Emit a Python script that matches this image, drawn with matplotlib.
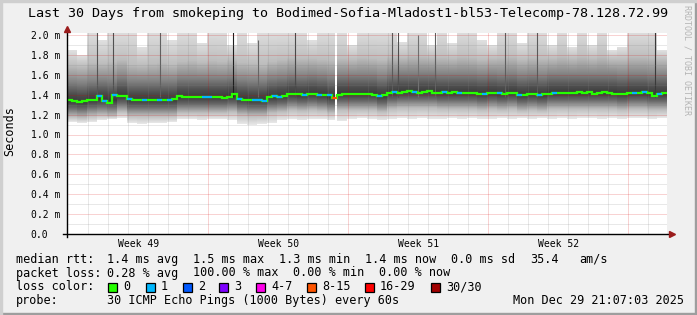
import matplotlib
matplotlib.use("Agg")
import matplotlib.pyplot as plt
import numpy as np
from matplotlib.patches import Rectangle

W, H = 697, 315
MONO = "DejaVu Sans Mono"

TITLE = "Last 30 Days from smokeping to Bodimed-Sofia-Mladost1-bl53-Telecomp-78.128.72.99"

# median rtt in ms, one value per 6 hours over the 30 days
median_rtt = [
    1.345, 1.34, 1.33, 1.335, 1.345, 1.35, 1.39, 1.335, 1.315, 1.40,
    1.385, 1.39, 1.355, 1.35, 1.35, 1.345, 1.345, 1.35, 1.345, 1.35,
    1.345, 1.36, 1.385, 1.38, 1.38, 1.375, 1.38, 1.375, 1.38, 1.375,
    1.38, 1.37, 1.375, 1.41, 1.36, 1.35, 1.35, 1.345, 1.35, 1.34,
    1.375, 1.385, 1.38, 1.39, 1.405, 1.41, 1.405, 1.40, 1.405, 1.41,
    1.395, 1.40, 1.395, 1.37, 1.40, 1.41, 1.405, 1.41, 1.405, 1.41,
    1.41, 1.40, 1.385, 1.395, 1.42, 1.425, 1.42, 1.43, 1.435, 1.425,
    1.42, 1.43, 1.44, 1.42, 1.415, 1.425, 1.42, 1.425, 1.415, 1.42,
    1.415, 1.42, 1.41, 1.405, 1.415, 1.42, 1.415, 1.41, 1.415, 1.42,
    1.40, 1.395, 1.405, 1.41, 1.40, 1.405, 1.41, 1.42, 1.415, 1.42,
    1.415, 1.42, 1.425, 1.42, 1.425, 1.41, 1.42, 1.425, 1.42, 1.41,
    1.405, 1.41, 1.415, 1.42, 1.415, 1.425, 1.42, 1.39, 1.41, 1.415,
]
# loss class of each median value (index into loss_colors)
median_loss = [
    0, 0, 0, 0, 0, 0, 1, 1, 0, 1,
    0, 0, 1, 0, 0, 1, 0, 0, 1, 0,
    1, 0, 0, 0, 0, 0, 0, 1, 1, 0,
    0, 0, 0, 0, 1, 0, 0, 1, 1, 1,
    0, 1, 1, 0, 0, 0, 0, 1, 0, 0,
    1, 0, 1, 5, 0, 0, 0, 0, 0, 0,
    0, 0, 1, 0, 0, 1, 0, 0, 0, 1,
    0, 0, 0, 0, 0, 1, 0, 0, 1, 0,
    0, 0, 0, 1, 0, 0, 1, 0, 0, 0,
    1, 0, 0, 0, 1, 0, 0, 1, 0, 0,
    0, 0, 0, 0, 0, 0, 0, 0, 0, 0,
    0, 0, 0, 1, 0, 1, 0, 0, 1, 0,
]

# smoke (spread of the 30 pings), one column per 12 hours, ms
smoke_lo = [
    1.13, 1.12, 1.13, 1.15, 1.16, 1.17, 1.12, 1.11, 1.12, 1.12,
    1.13, 1.16, 1.16, 1.15, 1.16, 1.16, 1.15, 1.11, 1.10, 1.11,
    1.12, 1.15, 1.16, 1.15, 1.16, 1.16, 1.15, 1.14, 1.16, 1.17,
    1.16, 1.15, 1.16, 1.17, 1.16, 1.17, 1.16, 1.16, 1.17, 1.16,
    1.17, 1.16, 1.16, 1.17, 1.16, 1.17, 1.16, 1.17, 1.16, 1.17,
    1.16, 1.17, 1.17, 1.16, 1.17, 1.16, 1.17, 1.17, 1.16, 1.17,
]
smoke_b1 = [
    1.18, 1.17, 1.19, 1.20, 1.19, 1.23, 1.19, 1.19, 1.19, 1.19,
    1.19, 1.22, 1.22, 1.22, 1.22, 1.22, 1.23, 1.20, 1.19, 1.19,
    1.22, 1.23, 1.25, 1.24, 1.25, 1.24, 1.22, 1.25, 1.25, 1.25,
    1.25, 1.23, 1.26, 1.27, 1.27, 1.27, 1.27, 1.26, 1.26, 1.26,
    1.26, 1.25, 1.26, 1.25, 1.26, 1.24, 1.25, 1.24, 1.26, 1.26,
    1.26, 1.26, 1.26, 1.26, 1.26, 1.25, 1.26, 1.26, 1.25, 1.25,
]
smoke_b2 = [
    1.27, 1.26, 1.28, 1.29, 1.28, 1.32, 1.28, 1.28, 1.28, 1.28,
    1.28, 1.31, 1.31, 1.31, 1.31, 1.31, 1.32, 1.29, 1.28, 1.28,
    1.31, 1.32, 1.34, 1.33, 1.34, 1.33, 1.31, 1.34, 1.34, 1.34,
    1.34, 1.32, 1.35, 1.36, 1.36, 1.36, 1.36, 1.35, 1.35, 1.35,
    1.35, 1.34, 1.35, 1.34, 1.35, 1.33, 1.34, 1.33, 1.35, 1.35,
    1.35, 1.35, 1.35, 1.35, 1.35, 1.34, 1.35, 1.35, 1.34, 1.34,
]
smoke_a1 = [
    1.41, 1.40, 1.42, 1.43, 1.42, 1.46, 1.42, 1.42, 1.42, 1.42,
    1.42, 1.45, 1.45, 1.45, 1.45, 1.45, 1.46, 1.43, 1.42, 1.42,
    1.45, 1.46, 1.48, 1.47, 1.48, 1.47, 1.45, 1.48, 1.48, 1.48,
    1.48, 1.46, 1.49, 1.50, 1.50, 1.50, 1.50, 1.49, 1.49, 1.49,
    1.49, 1.48, 1.49, 1.48, 1.49, 1.47, 1.48, 1.47, 1.49, 1.49,
    1.49, 1.49, 1.49, 1.49, 1.49, 1.48, 1.49, 1.49, 1.48, 1.48,
]
smoke_a2 = [
    1.53, 1.52, 1.54, 1.55, 1.54, 1.58, 1.54, 1.54, 1.54, 1.54,
    1.54, 1.57, 1.57, 1.57, 1.57, 1.57, 1.58, 1.55, 1.54, 1.54,
    1.57, 1.58, 1.60, 1.59, 1.60, 1.59, 1.57, 1.60, 1.60, 1.60,
    1.60, 1.58, 1.61, 1.62, 1.62, 1.62, 1.62, 1.61, 1.61, 1.61,
    1.61, 1.60, 1.61, 1.60, 1.61, 1.59, 1.60, 1.59, 1.61, 1.61,
    1.61, 1.61, 1.61, 1.61, 1.61, 1.60, 1.61, 1.61, 1.60, 1.60,
]
smoke_a3 = [
    1.70, 1.69, 1.73, 1.72, 1.74, 1.76, 1.71, 1.70, 1.72, 1.73,
    1.71, 1.74, 1.75, 1.73, 1.75, 1.74, 1.76, 1.73, 1.72, 1.71,
    1.74, 1.76, 1.78, 1.77, 1.77, 1.76, 1.75, 1.77, 1.76, 1.78,
    1.77, 1.76, 1.79, 1.78, 1.80, 1.79, 1.78, 1.78, 1.77, 1.79,
    1.78, 1.76, 1.77, 1.78, 1.79, 1.76, 1.78, 1.77, 1.77, 1.79,
    1.77, 1.79, 1.77, 1.79, 1.76, 1.76, 1.79, 1.79, 1.78, 1.76,
]
smoke_hi = [
    1.85, 1.80, 2.05, 1.95, 2.05, 2.05, 2.05, 1.88, 2.05, 2.05,
    1.95, 2.05, 2.05, 1.92, 2.05, 2.05, 1.90, 2.05, 1.92, 2.05,
    2.05, 2.05, 2.05, 2.05, 1.95, 2.05, 2.05, 2.05, 1.90, 2.05,
    2.05, 2.05, 2.05, 1.93, 2.05, 2.05, 1.90, 2.05, 1.92, 2.05,
    2.05, 1.95, 1.90, 2.05, 2.05, 1.92, 2.05, 2.05, 1.90, 2.05,
    1.88, 2.05, 1.90, 2.05, 1.85, 1.88, 2.05, 2.05, 2.05, 1.85,
]
# grey level (0-255) of the smoke at lo, b1, b2, core, a1, a2, a3, hi
smoke_levels = [232, 190, 105, 58, 78, 130, 190, 224]

# single samples with a wide spread (dark streaks), day offset and top in ms
spike_days = [1.5, 2.3, 4.65, 8.3, 9.55, 11.4, 16.25, 16.55, 17.55, 18.4, 21.9, 23.5, 29.4]
spike_tops = [2.05, 2.05, 2.05, 2.05, 1.95, 2.05, 2.05, 2.05, 2.0, 2.05, 2.05, 2.05, 2.05]
spike_grays = ["#555555", "#505050", "#606060", "#1e1e1e", "#666666", "#4a4a4a",
               "#5a5a5a", "#4e4e4e", "#707070", "#606060", "#5e5e5e", "#5a5a5a", "#3a3a3a"]
outage_days = [13.45]

week_labels = ["Week 49", "Week 50", "Week 51", "Week 52"]
week_centers = [3.59, 10.59, 17.59, 24.59]
week_bounds = [7.05, 14.05, 21.05, 28.05]
day_lines = [1.05 + d for d in range(29)]

y_ticks = [0.0, 0.2, 0.4, 0.6, 0.8, 1.0, 1.2, 1.4, 1.6, 1.8, 2.0]
y_labels = ["0.0", "0.2 m", "0.4 m", "0.6 m", "0.8 m", "1.0 m", "1.2 m",
            "1.4 m", "1.6 m", "1.8 m", "2.0 m"]
y_minor = [0.1, 0.3, 0.5, 0.7, 0.9, 1.1, 1.3, 1.5, 1.7, 1.9]

loss_labels = ["0", "1", "2", "3", "4-7", "8-15", "16-29", "30/30"]
loss_colors = ["#26ff00", "#00b8ff", "#0059ff", "#7e00ff", "#ff00ea", "#ff5500", "#ff0000", "#a10000"]

rtt_stats = ["1.4 ms avg", "1.5 ms max", "1.3 ms min", "1.4 ms now", "0.0 ms sd", "35.4", "am/s"]
loss_stats = ["0.28 % avg", "100.00 % max", "0.00 % min", "0.00 % now"]
probe_text = "30 ICMP Echo Pings (1000 Bytes) every 60s"
stamp = "Mon Dec 29 21:07:03 2025"


def fx(px):
    return px / W


def fy(py):
    return 1 - py / H


fig = plt.figure(figsize=(W / 100, H / 100), dpi=100)
fig.patch.set_facecolor("#f0f0f0")

# 3d frame around the image
fig.add_artist(Rectangle((0, 0), 1, fy(313), transform=fig.transFigure, color="#9e9e9e", zorder=0))
fig.add_artist(Rectangle((fx(695), 0), fx(2), 1, transform=fig.transFigure, color="#9e9e9e", zorder=0))
fig.add_artist(Rectangle((0, fy(2)), 1, 2 / H, transform=fig.transFigure, color="#cfcfcf", zorder=0))
fig.add_artist(Rectangle((0, 0), fx(2), 1, transform=fig.transFigure, color="#cfcfcf", zorder=0))

ymax = 201 / 99.5
ax = fig.add_axes([fx(67), (H - 234) / H, 600 / W, 201 / H])
ax.set_facecolor("white")
ax.set_xlim(0, 30)
ax.set_ylim(0, ymax)
for side in ax.spines.values():
    side.set_visible(False)

# smoke: each column shaded dark at the middle, fading out towards the extremes
rows = np.linspace(0, ymax, 402)
smoke = np.zeros((len(rows), len(smoke_lo), 4))
for j in range(len(smoke_lo)):
    core = (smoke_b2[j] + smoke_a1[j]) / 2
    stops = [smoke_lo[j], smoke_b1[j], smoke_b2[j], core, smoke_a1[j], smoke_a2[j], smoke_a3[j], smoke_hi[j]]
    level = np.interp(rows, stops, smoke_levels) / 255
    inside = (rows >= smoke_lo[j]) & (rows <= smoke_hi[j])
    smoke[:, j, 0] = level
    smoke[:, j, 1] = level
    smoke[:, j, 2] = level
    smoke[:, j, 3] = inside
ax.imshow(smoke, extent=(0, 30, 0, ymax), origin="lower", aspect="auto",
          interpolation="nearest", zorder=1)

ax.vlines(spike_days, 1.38, spike_tops, colors=spike_grays, lw=0.8, zorder=1.2)
for day in outage_days:
    ax.axvspan(day - 0.03, day + 0.03, color="white", lw=0, zorder=1.3)

# grid (drawn over the smoke, as rrdtool does)
dots = (0, (1, 1))
ax.hlines(y_minor, 0, 30, colors=(0.5, 0.5, 0.5, 0.35), lw=0.72, linestyles=dots, zorder=2)
ax.hlines(y_ticks[1:], 0, 30, colors=(0.85, 0.0, 0.0, 0.35), lw=0.72, linestyles=dots, zorder=2)
minor_days = [d for d in day_lines if min(abs(d - w) for w in week_bounds) > 0.01]
ax.vlines(minor_days, 0, ymax, colors=(0.5, 0.5, 0.5, 0.35), lw=0.72, linestyles=dots, zorder=2)
ax.vlines(week_bounds, 0, ymax, colors=(0.85, 0.0, 0.0, 0.35), lw=0.72, linestyles=dots, zorder=2)

# median line coloured by packet loss
med_edges = np.linspace(0, 30, len(median_rtt) + 1)
ax.stairs(median_rtt, med_edges, baseline=None, color=loss_colors[0], lw=1.6, zorder=3)
for i, (value, loss) in enumerate(zip(median_rtt, median_loss)):
    if loss:
        ax.hlines(value, med_edges[i], med_edges[i + 1], colors=loss_colors[loss], lw=1.6, zorder=3.1)

# axes with arrows
ax.plot([-0.007, 1.006], [0, 0], color="black", lw=1, transform=ax.get_yaxis_transform(),
        clip_on=False, zorder=4)
ax.plot([0, 0], [-0.015, 1.0], color="black", lw=1, transform=ax.transAxes, clip_on=False, zorder=4)
ax.plot([1.009], [0], marker=">", ms=4, color="#9b1c1c", transform=ax.get_yaxis_transform(),
        clip_on=False, zorder=4)
ax.plot([0], [1.018], marker="^", ms=4, color="#9b1c1c", transform=ax.transAxes,
        clip_on=False, zorder=4)

ax.set_yticks(y_ticks, y_labels)
ax.tick_params(axis="y", length=0, pad=26.2, labelsize=7)
for label in ax.get_yticklabels():
    label.set_ha("left")
    label.set_family(MONO)
ax.set_xticks(week_centers, week_labels)
ax.tick_params(axis="x", length=0, pad=3.5, labelsize=7)
for label in ax.get_xticklabels():
    label.set_family(MONO)

fig.text(fx(10), fy(131), "Seconds", rotation=90, ha="center", va="center", family=MONO, fontsize=8.5)
fig.text(fx(348), fy(14), TITLE, ha="center", va="center", family=MONO, fontsize=9.6)
fig.text(fx(687), fy(5), "RRDTOOL / TOBI OETIKER", rotation=270, ha="center", va="top",
         family=MONO, fontsize=6, color="#b4b4b4")

# legend block
LEG = 8.5
rows_y = [259.5, 273, 287, 300.5]
fig.text(fx(16), fy(rows_y[0]), "median rtt:", va="center", family=MONO, fontsize=LEG)
for x, s in zip([107, 193, 279, 365, 451, 530, 579], rtt_stats):
    fig.text(fx(x), fy(rows_y[0]), s, va="center", family=MONO, fontsize=LEG)
fig.text(fx(16), fy(rows_y[1]), "packet loss:", va="center", family=MONO, fontsize=LEG)
for x, s in zip([107, 193, 293, 379], loss_stats):
    fig.text(fx(x), fy(rows_y[1]), s, va="center", family=MONO, fontsize=LEG)
fig.text(fx(16), fy(rows_y[2]), "loss color:", va="center", family=MONO, fontsize=LEG)
box_x = [108, 146, 183, 219, 256, 307, 365, 431]
for x, lab, col in zip(box_x, loss_labels, loss_colors):
    fig.add_artist(Rectangle((fx(x), fy(rows_y[2] + 4.5)), fx(8.5), 8.5 / H, transform=fig.transFigure,
                             facecolor=col, edgecolor="black", lw=0.9))
    fig.text(fx(x + 15), fy(rows_y[2]), lab, va="center", family=MONO, fontsize=LEG)
fig.text(fx(16), fy(rows_y[3]), "probe:", va="center", family=MONO, fontsize=LEG)
fig.text(fx(107), fy(rows_y[3]), probe_text, va="center", family=MONO, fontsize=LEG)
fig.text(fx(513), fy(rows_y[3]), stamp, va="center", family=MONO, fontsize=LEG)

fig.savefig("out.png", dpi=100, facecolor=fig.get_facecolor())
